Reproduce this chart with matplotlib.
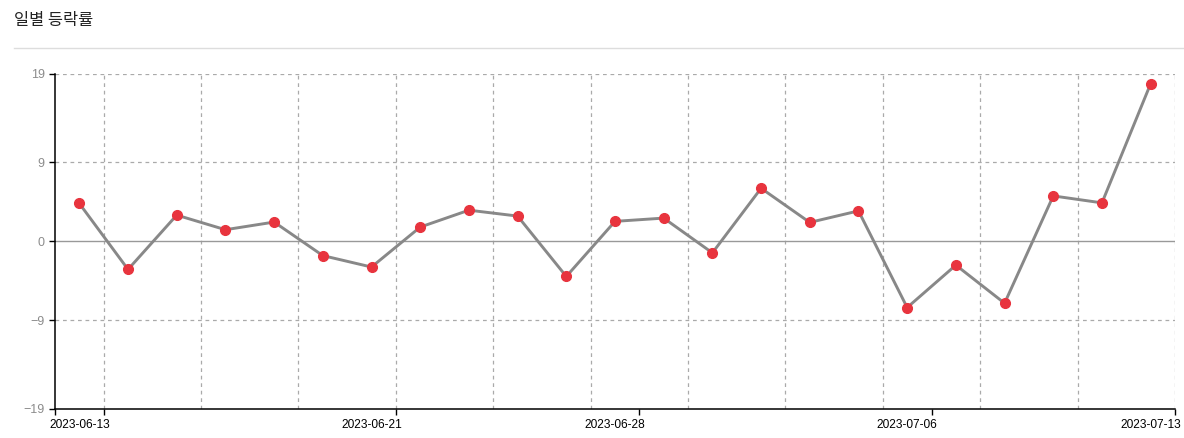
import matplotlib
matplotlib.use("Agg")
import matplotlib.pyplot as plt
from matplotlib.lines import Line2D

# 거래일 (2023-06-13 ~ 2023-07-13)
dates = ["2023-06-13", "2023-06-14", "2023-06-15", "2023-06-16",
         "2023-06-19", "2023-06-20", "2023-06-21", "2023-06-22", "2023-06-23",
         "2023-06-26", "2023-06-27", "2023-06-28", "2023-06-29", "2023-06-30",
         "2023-07-03", "2023-07-04", "2023-07-05", "2023-07-06", "2023-07-07",
         "2023-07-10", "2023-07-11", "2023-07-12", "2023-07-13"]
# 일별 등락률 (%)
rates = [4.29, -3.2, 2.97, 1.31, 2.18, -1.63, -2.93, 1.61, 3.53, 2.86, -4.0,
         2.26, 2.63, -1.32, 6.02, 2.14, 3.45, -7.53, -2.71, -7.04, 5.15, 4.36, 17.9]
y_ticks = [-19, -9, 0, 9, 19]
label_idx = [0, 6, 11, 17, 22]

W, H = 1184, 438
fig = plt.figure(figsize=(W / 100, H / 100), dpi=100)
ax = fig.add_axes([55 / W, 1 - 408.5 / H, 1120 / W, 334.5 / H])

x = list(range(len(dates)))

# 그리드
for b in range(1, len(dates) + 1, 2):
    ax.axvline(b - 0.5, color="#aaaaaa", lw=0.9, ls=(0, (3, 3)), zorder=1)
for v in [19, 9, -9]:
    ax.axhline(v, color="#aaaaaa", lw=0.9, ls=(0, (3, 3)), zorder=1)
ax.axhline(0, color="#999999", lw=1.0, zorder=1)

ax.plot(x, rates, color="#888888", lw=2.1, zorder=2)
ax.plot(x, rates, ls="none", marker="o", ms=7, color="#e8343e", zorder=3)

ax.set_xlim(-0.5, len(dates) - 0.5)
ax.set_ylim(-19, 19)

for s in ["top", "right"]:
    ax.spines[s].set_visible(False)
for s in ["left", "bottom"]:
    ax.spines[s].set_color("black")
    ax.spines[s].set_linewidth(1.1)

ax.set_yticks(y_ticks)
ax.tick_params(axis="y", length=4.5, width=1, color="black", pad=3,
               labelsize=9, labelcolor="#8c8c8c")

ax.set_xticks(label_idx)
ax.set_xticklabels([dates[i] for i in label_idx])
ax.tick_params(axis="x", which="major", length=0, pad=7.5, labelsize=8.6,
               labelcolor="black")
ax.set_xticks([-0.5] + [i + 0.5 for i in label_idx], minor=True)
ax.tick_params(axis="x", which="minor", length=4.5, width=1, color="black")

for lab in ax.get_xticklabels() + ax.get_yticklabels():
    lab.set_family(["Liberation Sans", "DejaVu Sans"])

fig.text(14 / W, 1 - 21 / H, "일별 등락률", fontsize=11.8, color="#222222",
         va="center", ha="left", family=["Noto Sans CJK KR", "DejaVu Sans"])
fig.add_artist(Line2D([14 / W, 1], [1 - 48 / H, 1 - 48 / H],
                      transform=fig.transFigure, color="#dddddd", lw=1))

fig.savefig("out.png", dpi=100)
